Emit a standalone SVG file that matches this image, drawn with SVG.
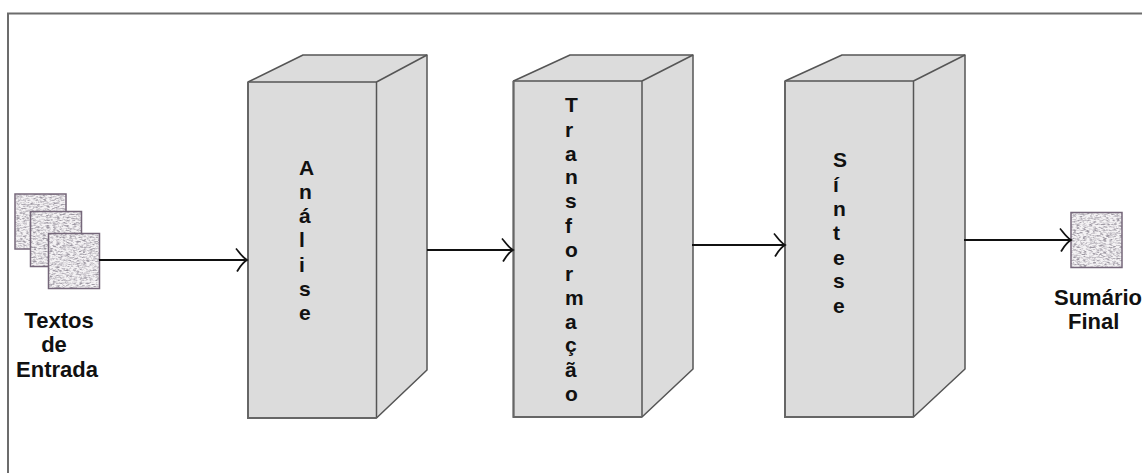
<svg xmlns="http://www.w3.org/2000/svg" width="1144" height="473" viewBox="0 0 1144 473">
<style>
.f{fill:#dcdcdc;stroke:#555;stroke-width:1.5;stroke-linejoin:round}
.e{fill:none;stroke:#555;stroke-width:1.5;stroke-linejoin:round}
.b{fill:none;stroke:#666;stroke-width:2}
.c{fill:none;stroke:#111;stroke-width:2}
.t{font-family:"Liberation Sans",Arial,sans-serif;font-weight:bold;fill:#111;font-size:21px}
.l{font-size:22px}
.m{text-anchor:middle}
.d{fill:#f4f2f4;filter:url(#n)}
.o{fill:none;stroke:#75677a;stroke-width:1.5}
</style>
<defs>
<marker id="a" markerUnits="userSpaceOnUse" markerWidth="15" markerHeight="28" refX="13" refY="14" orient="auto">
<path d="M2 2.500C5 6 8 11 13 14C8 17 6 21 3 25.500" fill="none" stroke="#111" stroke-width="1.800"/>
</marker>
<filter id="n" x="0" y="0" width="1" height="1" color-interpolation-filters="sRGB">
<feTurbulence type="fractalNoise" baseFrequency="0.3 0.7" numOctaves="2" seed="4" result="t"/>
<feColorMatrix in="t" type="matrix" values="0 0 0 0 .62  0 0 0 0 .6  0 0 0 0 .64  2 2 0 0 -1.750"/>
<feGaussianBlur stdDeviation="0.5" result="c"/>
<feMerge result="g"><feMergeNode in="SourceGraphic"/><feMergeNode in="c"/></feMerge>
<feComposite in="g" in2="SourceGraphic" operator="in"/>
</filter>
</defs>
<rect width="1144" height="473" fill="#fff"/>
<path id="frame" d="M8 473V13.500H1142" fill="none" stroke="#6c6c6c" stroke-width="2"/>

<g id="analise">
<path class="f" d="M248 82L303 55H427V370L376.500 418H248Z"/>
<path class="e" d="M248 82H376.500L427 55M376.500 82V418"/>
<path class="b" d="M248 82V418H376.500"/>
<g class="t">
<text x="299" y="175">A</text><text x="299" y="199">n</text><text x="299" y="223">á</text><text x="299" y="247">l</text><text x="299" y="272">i</text><text x="299" y="296">s</text><text x="299" y="320">e</text>
</g>
</g>

<g id="transformacao">
<path class="f" d="M513.500 81L570 55H693V369L642 417H513.500Z"/>
<path class="e" d="M513.500 81H642L693 55M642 81V417"/>
<path class="b" d="M513.500 81V417H642"/>
<g class="t">
<text x="565" y="112">T</text><text x="565" y="137">r</text><text x="565" y="161">a</text><text x="565" y="184">n</text><text x="565" y="208">s</text><text x="565" y="233">f</text><text x="565" y="257">o</text><text x="565" y="281">r</text><text x="565" y="305">m</text><text x="565" y="329">a</text><text x="565" y="352">ç</text><text x="565" y="377">ã</text><text x="565" y="401">o</text>
</g>
</g>

<g id="sintese">
<path class="f" d="M785 81L842 55H965V369L913.500 417H785Z"/>
<path class="e" d="M785 81H913.500L965 55M913.500 81V417"/>
<path class="b" d="M785 81V417H913.500"/>
<g class="t">
<text x="833" y="167">S</text><text x="833" y="192">í</text><text x="833" y="216">n</text><text x="833" y="240">t</text><text x="833" y="265">e</text><text x="833" y="288">s</text><text x="833" y="313">e</text>
</g>
</g>

<g id="textos-de-entrada">
<rect class="d" x="15" y="194" width="51" height="55"/><rect class="o" x="15" y="194" width="51" height="55"/>
<rect class="d" x="30.500" y="211.500" width="51" height="55"/><rect class="o" x="30.500" y="211.500" width="51" height="55"/>
<rect class="d" x="48.500" y="233.500" width="51" height="55"/><rect class="o" x="48.500" y="233.500" width="51" height="55"/>
<text class="t l m" x="59" y="328">Textos</text>
<text class="t l m" x="54" y="352">de</text>
<text class="t l m" x="57" y="377">Entrada</text>
</g>

<g id="sumario-final">
<rect class="d" x="1071" y="212.500" width="51" height="55"/><rect class="o" x="1071" y="212.500" width="51" height="55"/>
<text class="t l" x="1054" y="305">Sumário</text>
<text class="t l" x="1068" y="329">Final</text>
</g>

<g id="connectors">
<line class="c" x1="99" y1="260" x2="247" y2="260" marker-end="url(#a)"/>
<line class="c" x1="427" y1="250" x2="513" y2="250" marker-end="url(#a)"/>
<line class="c" x1="692" y1="245" x2="785" y2="245" marker-end="url(#a)"/>
<line class="c" x1="964" y1="240" x2="1071" y2="240" marker-end="url(#a)"/>
</g>
</svg>
